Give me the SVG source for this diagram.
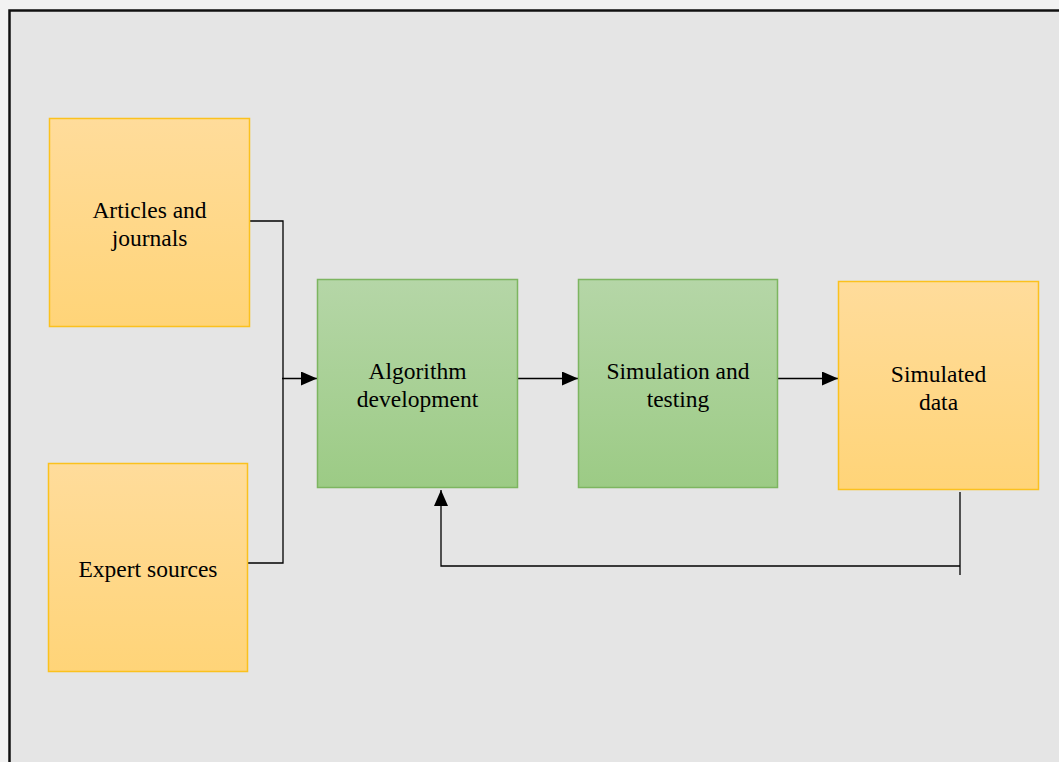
<svg xmlns="http://www.w3.org/2000/svg" width="1059" height="762" viewBox="0 0 1059 762">
<style>
.t{font-family:"Liberation Serif","Times New Roman",serif;font-size:23.5px;fill:#000;text-anchor:middle}
.c{fill:none;stroke:#000;stroke-width:1.3}
.o{fill:url(#og);stroke:#fbc11e;stroke-width:1.5}
.g{fill:url(#gg);stroke:#7db560;stroke-width:1.5}
</style>
<defs>
<linearGradient id="og" x1="0" y1="0" x2="0" y2="1"><stop offset="0" stop-color="#ffdc9b"/><stop offset="1" stop-color="#ffd478"/></linearGradient>
<linearGradient id="gg" x1="0" y1="0" x2="0" y2="1"><stop offset="0" stop-color="#b5d6a7"/><stop offset="1" stop-color="#9ccb85"/></linearGradient>
<marker id="ah" markerWidth="16" markerHeight="14" refX="16" refY="7" orient="auto" markerUnits="userSpaceOnUse"><path d="M0,0 L16,7 L0,14 Z" fill="#000"/></marker>
</defs>
<rect width="1059" height="762" fill="#f2f2f2"/>
<rect x="9.5" y="10.5" width="1060" height="760" fill="#e5e5e5" stroke="#111" stroke-width="2.5"/>
<g id="connectors">
<path class="c" d="M249,221 H283 V563 H247"/>
<path class="c" d="M282,378.5 H317" marker-end="url(#ah)"/>
<path class="c" d="M517,378.5 H578" marker-end="url(#ah)"/>
<path class="c" d="M778,378.5 H838" marker-end="url(#ah)"/>
<path class="c" d="M960,492 V575"/>
<path class="c" d="M960,566 H441 V490" marker-end="url(#ah)"/>
</g>
<g id="articles"><rect class="o" x="49.5" y="118.5" width="200" height="208"/><text class="t" x="149.5" y="218">Articles and</text><text class="t" x="149.5" y="246">journals</text></g>
<g id="expert"><rect class="o" x="48.5" y="463.5" width="199" height="208"/><text class="t" x="148" y="577">Expert sources</text></g>
<g id="algorithm"><rect class="g" x="317.5" y="279.5" width="200" height="208"/><text class="t" x="417.5" y="379">Algorithm</text><text class="t" x="417.5" y="407">development</text></g>
<g id="simulation"><rect class="g" x="578.5" y="279.5" width="199" height="208"/><text class="t" x="678" y="379">Simulation and</text><text class="t" x="678" y="407">testing</text></g>
<g id="simdata"><rect class="o" x="838.5" y="281.5" width="200" height="208"/><text class="t" x="938.5" y="382">Simulated</text><text class="t" x="938.5" y="410">data</text></g>
</svg>
